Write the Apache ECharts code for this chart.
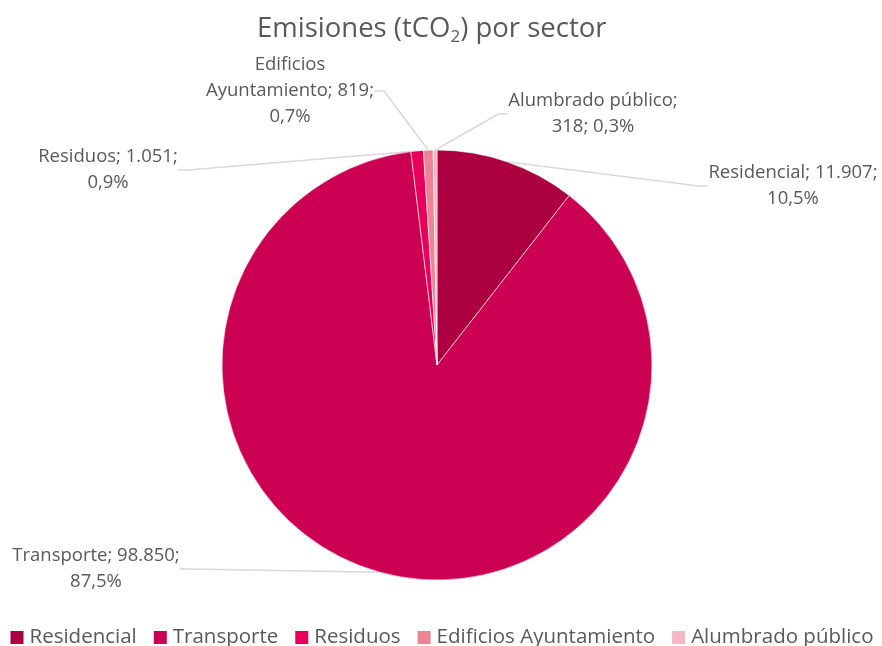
<!DOCTYPE html>
<html>
<head>
<meta charset="utf-8">
<style>
  html, body { margin: 0; padding: 0; background: #fff; }
  #chart { width: 882px; height: 646px; }
</style>
<script src="https://cdn.jsdelivr.net/npm/echarts@6/dist/echarts.min.js"></script>
</head>
<body>
<div id="chart"></div>
<script>
const sectors = ['Residencial', 'Transporte', 'Residuos', 'Edificios Ayuntamiento', 'Alumbrado público']
const values = [11907, 98850, 1051, 819, 318]
const colors = ['#ad0041', '#cc0052', '#e6005c', '#ed8496', '#f4b6c3']

// where each data label sits (centre of the text block)
const labelPos = [[793, 186], [96, 569], [108, 170], [290, 91], [593, 114]]

const total = values.reduce((a, b) => a + b, 0)
const fmtNum = v => String(v).replace(/\B(?=(\d{3})+(?!\d))/g, '.')
const fmtPct = v => (v / total * 100).toFixed(1).replace('.', ',') + '%'

function labelText(i) {
  const n = sectors[i], v = fmtNum(values[i]), p = fmtPct(values[i])
  if (i === 3) return n.replace(' ', '\n') + '; ' + v + ';\n' + p
  if (i === 4) return n + ';\n' + v + '; ' + p
  return n + '; ' + v + ';\n' + p
}

const font = 'Open Sans'
const chart = echarts.init(document.getElementById('chart'))

chart.setOption({
  animation: false,
  color: colors,
  title: {
    text: 'Emisiones (tCO{sub|2}) por sector',
    left: 252,
    top: 8,
    textStyle: {
      fontFamily: font,
      fontSize: 27.5,
      fontWeight: 'normal',
      color: '#595959',
      rich: {
        sub: { fontFamily: font, fontSize: 17, color: '#595959', padding: [16, 0, 0, 0] }
      }
    }
  },
  legend: {
    bottom: -7,
    left: 'center',
    icon: 'rect',
    itemWidth: 15,
    itemHeight: 15,
    itemGap: 15,
    textStyle: { fontFamily: font, fontSize: 20.5, color: '#595959', padding: [0, 0, 0, 0] },
    data: sectors
  },
  series: [{
    type: 'pie',
    center: [437, 365],
    radius: 215,
    startAngle: 90,
    clockwise: true,
    itemStyle: { borderColor: '#fff', borderWidth: 0.6 },
    label: {
      formatter: p => labelText(p.dataIndex),
      fontFamily: font,
      fontSize: 18.5,
      lineHeight: 26,
      color: '#595959',
      align: 'center'
    },
    labelLine: {
      show: true,
      length: 10,
      length2: 10,
      lineStyle: { color: '#d9d9d9', width: 1.5 }
    },
    labelLayout: p => ({
      x: labelPos[p.dataIndex][0],
      y: labelPos[p.dataIndex][1],
      align: 'center',
      verticalAlign: 'middle'
    }),
    data: sectors.map((s, i) => ({ name: s, value: values[i] }))
  }]
})
</script>
</body>
</html>
